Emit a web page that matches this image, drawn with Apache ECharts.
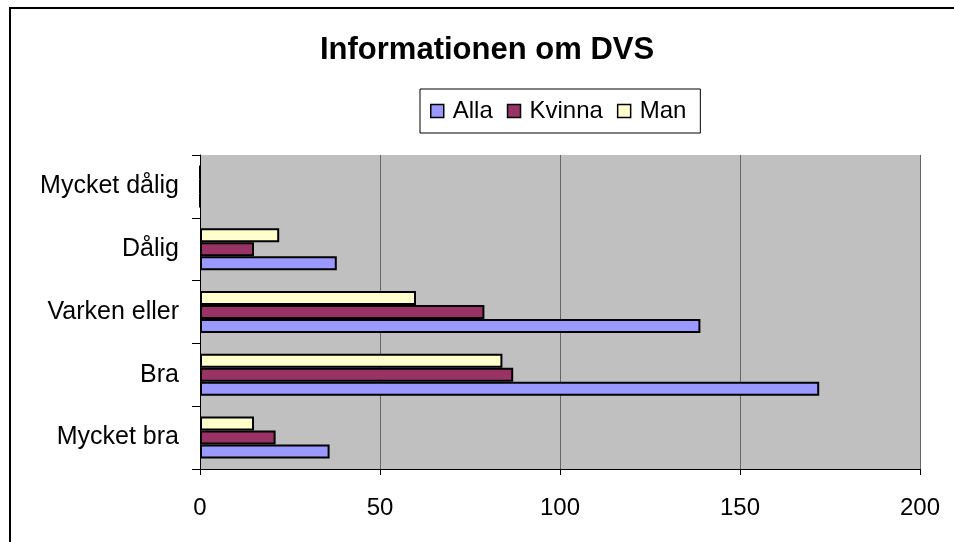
<!DOCTYPE html>
<html>
<head>
<meta charset="utf-8">
<script src="https://cdn.jsdelivr.net/npm/echarts@6/dist/echarts.min.js"></script>
<style>
  html, body { margin: 0; padding: 0; background: #fff; }
  #chart { width: 954px; height: 542px; }
</style>
</head>
<body>
<div id="chart"></div>
<script>
// kategorier nerifrån och upp
var categories = ['Mycket bra', 'Bra', 'Varken eller', 'Dålig', 'Mycket dålig'];
var alla = [36, 172, 139, 38, 0];
var kvinna = [21, 87, 79, 15, 0];
var man = [15, 84, 60, 22, 0];
var xTicks = [0, 50, 100, 150, 200];

var font = '"Liberation Sans", Arial, sans-serif';

function barSeries(name, data, color) {
  return {
    name: name,
    type: 'bar',
    data: data,
    barWidth: 14,
    barGap: '0%',
    itemStyle: { color: color, borderColor: '#000', borderWidth: 2 }
  };
}

var myChart = echarts.init(document.getElementById('chart'));
myChart.setOption({
  animation: false,
  textStyle: { fontFamily: font },
  graphic: [{
    type: 'rect',
    shape: { x: 10, y: 8, width: 1000, height: 600 },
    style: { fill: 'none', stroke: '#000', lineWidth: 2 },
    silent: true
  }],
  title: {
    text: 'Informationen om DVS',
    left: 315,
    top: 30,
    textStyle: { fontSize: 31, fontWeight: 'bold', color: '#000', fontFamily: font }
  },
  legend: {
    left: 420,
    top: 89,
    padding: [9, 14, 9, 10],
    borderColor: '#000',
    borderWidth: 1,
    backgroundColor: '#fff',
    icon: 'rect',
    itemWidth: 13,
    itemHeight: 13,
    itemGap: 14,
    itemStyle: { borderColor: '#000', borderWidth: 1.5 },
    textStyle: { fontSize: 24, lineHeight: 26, color: '#000', fontFamily: font, padding: [0, 0, 0, 4] },
    data: ['Alla', 'Kvinna', 'Man']
  },
  grid: {
    left: 200, right: 34, top: 155, bottom: 73,
    show: true, backgroundColor: '#C0C0C0', borderWidth: 0
  },
  xAxis: {
    type: 'value',
    min: xTicks[0],
    max: xTicks[xTicks.length - 1],
    interval: 50,
    axisLine: { show: true, lineStyle: { color: '#000', width: 1 } },
    axisTick: { show: true, length: 6, lineStyle: { color: '#000' } },
    splitLine: { show: true, lineStyle: { color: '#666', width: 1 } },
    axisLabel: { fontSize: 24, color: '#000', margin: 27, fontFamily: font }
  },
  yAxis: {
    type: 'category',
    data: categories,
    axisLine: { show: true, lineStyle: { color: '#000', width: 1 } },
    axisTick: { show: true, length: 8, lineStyle: { color: '#000' } },
    axisLabel: { fontSize: 25, color: '#000', margin: 21, fontFamily: font }
  },
  // första serien ritas överst, så Alla läggs sist
  series: [
    barSeries('Man', man, '#FFFFCC'),
    barSeries('Kvinna', kvinna, '#993366'),
    barSeries('Alla', alla, '#9999FF')
  ]
});
</script>
</body>
</html>
